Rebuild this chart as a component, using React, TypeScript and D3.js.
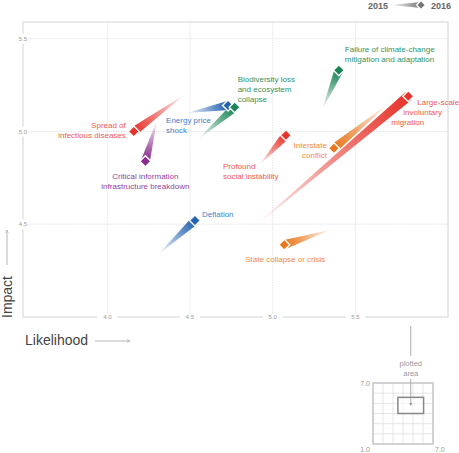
import React from "react";
import * as d3 from "d3";

// Risk data: 2015 -> 2016 movement on likelihood/impact
const risks = [
  "Spread of infectious diseases",
  "Critical information infrastructure breakdown",
  "Energy price shock",
  "Biodiversity loss and ecosystem collapse",
  "Failure of climate-change mitigation and adaptation",
  "Large-scale involuntary migration",
  "Interstate conflict",
  "Profound social instability",
  "Deflation",
  "State collapse or crisis",
];
const riskGroup = [
  "societal",
  "technological",
  "economic",
  "environmental",
  "environmental",
  "societal",
  "geopolitical",
  "societal",
  "economic",
  "geopolitical",
];
const likelihood2015 = [4.47, 4.3, 4.48, 4.55, 5.3, 4.88, 5.7, 4.92, 4.31, 5.35];
const impact2015 = [5.2, 5.06, 5.1, 4.96, 5.12, 4.48, 5.15, 4.82, 4.34, 4.47];
const likelihood2016 = [4.16, 4.23, 4.73, 4.77, 5.4, 5.82, 5.37, 5.08, 4.53, 5.07];
const impact2016 = [5.0, 4.84, 5.14, 5.13, 5.33, 5.19, 4.91, 4.98, 4.52, 4.39];
const labelLines = [
  ["Spread of", "infectious diseases"],
  ["Critical information", "infrastructure breakdown"],
  ["Energy price", "shock"],
  ["Biodiversity loss", "and ecosystem", "collapse"],
  ["Failure of climate-change", "mitigation and adaptation"],
  ["Large-scale", "involuntary", "migration"],
  ["Interstate", "conflict"],
  ["Profound", "social instability"],
  ["Deflation"],
  ["State collapse or crisis"],
];

const groups = ["societal", "technological", "economic", "environmental", "geopolitical"];
const markColors = ["#e5332a", "#8a2c8c", "#2563b0", "#1b8655", "#e8771e"];
const textColors = ["#ee5a50", "#94449a", "#3f80cc", "#2f9464", "#f08c45"];

const xTicks = [4.0, 4.5, 5.0, 5.5];
const yTicks = [4.5, 5.0, 5.5];
const insetTicks = [1, 2, 3, 4, 5, 6, 7];

// label placement relative to the 2016 diamond (px)
const labelLayout = [
  { dx: [-8], dy: -6, anchor: "end" },
  { dx: [0], dy: 15, anchor: "middle" },
  { dx: [-62], dy: 15, anchor: "start" },
  { dx: [3], dy: -28, anchor: "start" },
  { dx: [6], dy: -21, anchor: "start" },
  { dx: [9, -5, -17], dy: 6, anchor: "start" },
  { dx: [-7], dy: -3, anchor: "end" },
  { dx: [-63], dy: 31, anchor: "start" },
  { dx: [7], dy: -7, anchor: "start" },
  { dx: [-39], dy: 14, anchor: "start" },
];

const W = 459;
const H = 453;
const font = "'Liberation Sans', Arial, Helvetica, sans-serif";

const wedgePath = (tx, ty, hx, hy, w) => {
  const len = Math.hypot(hx - tx, hy - ty) || 1;
  const nx = -(hy - ty) / len;
  const ny = (hx - tx) / len;
  const p = d3.path();
  p.moveTo(tx, ty);
  p.lineTo(hx + (nx * w) / 2, hy + (ny * w) / 2);
  p.lineTo(hx - (nx * w) / 2, hy - (ny * w) / 2);
  p.closePath();
  return p.toString();
};

const diamond = (x, y, r) =>
  `M${x},${y - r}L${x + r},${y}L${x},${y + r}L${x - r},${y}Z`;

export default function App() {
  const x = d3.scaleLinear().domain([3.49, 6.06]).range([23, 448]);
  const y = d3.scaleLinear().domain([4.0, 5.59]).range([317, 22]);
  const color = d3.scaleOrdinal<string, string>().domain(groups).range(markColors);
  const tcolor = d3.scaleOrdinal<string, string>().domain(groups).range(textColors);
  const fmt = d3.format(".1f");

  // inset: full 1-7 scale with plotted window
  const ix = d3.scaleLinear().domain([1, 7]).range([373, 433]);
  const iy = d3.scaleLinear().domain([1, 7]).range([444, 383]);
  const [dx0, dx1] = x.domain();
  const [dy0, dy1] = y.domain();
  const cx = (ix(dx0) + ix(dx1)) / 2;
  const cy = (iy(dy0) + iy(dy1)) / 2;

  const [x0, x1] = x.range();
  const [y0, y1] = y.range();

  return (
    <svg
      width={W}
      height={H}
      style={{ position: "absolute", left: 0, top: 0, background: "#fff" }}
      fontFamily={font}
    >
      <defs>
        {risks.map((r, i) => (
          <linearGradient
            key={r}
            id={`g${i}`}
            gradientUnits="userSpaceOnUse"
            x1={x(likelihood2015[i])}
            y1={y(impact2015[i])}
            x2={x(likelihood2016[i])}
            y2={y(impact2016[i])}
          >
            <stop offset="0" stopColor={color(riskGroup[i])} stopOpacity={0.02} />
            <stop offset="0.7" stopColor={color(riskGroup[i])} stopOpacity={0.75} />
            <stop offset="1" stopColor={color(riskGroup[i])} stopOpacity={1} />
          </linearGradient>
        ))}
        <linearGradient id="legendGrad" x1="0" x2="1" y1="0" y2="0">
          <stop offset="0" stopColor="#777" stopOpacity={0.05} />
          <stop offset="1" stopColor="#777" stopOpacity={1} />
        </linearGradient>
        <marker id="arr" viewBox="0 0 6 6" refX="5" refY="3" markerWidth="5" markerHeight="5" orient="auto">
          <path d="M0,0.5L5,3L0,5.5" fill="none" stroke="#999" strokeWidth={0.8} />
        </marker>
        <marker id="arr2" viewBox="0 0 6 6" refX="5" refY="3" markerWidth="4" markerHeight="4" orient="auto">
          <path d="M0,0L6,3L0,6Z" fill="#999" />
        </marker>
      </defs>

      {/* grid */}
      {xTicks.map((t) => (
        <line key={`gx${t}`} x1={x(t)} x2={x(t)} y1={y1} y2={y0} stroke="#ddd" strokeWidth={0.8} strokeDasharray="1.5,1" />
      ))}
      {yTicks.map((t) => (
        <line key={`gy${t}`} x1={x0} x2={x1} y1={y(t)} y2={y(t)} stroke="#ddd" strokeWidth={0.8} strokeDasharray="1.5,1" />
      ))}
      <rect x={x0} y={y1} width={x1 - x0} height={y0 - y1} fill="none" stroke="#e2e2e2" strokeWidth={1.5} />

      {/* tick labels */}
      {xTicks.map((t) => (
        <g key={`tx${t}`}>
          <rect x={x(t) - 10} y={y0 - 3} width={20} height={6} fill="#fff" />
          <text x={x(t)} y={y0 + 2.2} fontSize={6} fill="#999" textAnchor="middle">
            {fmt(t)}
          </text>
        </g>
      ))}
      {yTicks.map((t) => (
        <g key={`ty${t}`}>
          <rect x={x0 - 5} y={y(t) - 5} width={10} height={10} fill="#fff" />
          <text x={x0} y={y(t) + 2.2} fontSize={6} fill="#999" textAnchor="middle">
            {fmt(t)}
          </text>
        </g>
      ))}

      {/* wedges */}
      {risks.map((r, i) => (
        <path
          key={`w${r}`}
          d={wedgePath(
            x(likelihood2015[i]),
            y(impact2015[i]),
            x(likelihood2016[i]),
            y(impact2016[i]),
            i === 5 ? 10 : 9
          )}
          fill={`url(#g${i})`}
        />
      ))}
      {/* diamonds */}
      {risks.map((r, i) => (
        <path
          key={`d${r}`}
          d={diamond(x(likelihood2016[i]), y(impact2016[i]), 5.5)}
          fill={color(riskGroup[i])}
          stroke="#fff"
          strokeWidth={1.4}
        />
      ))}

      {/* labels */}
      {risks.map((r, i) => {
        const L = labelLayout[i];
        const hx = x(likelihood2016[i]);
        const hy = y(impact2016[i]);
        return (
          <text key={`l${r}`} fontSize={8} fill={tcolor(riskGroup[i])} textAnchor={L.anchor}>
            {labelLines[i].map((s, k) => (
              <tspan key={k} x={hx + (L.dx[k] ?? L.dx[0])} y={hy + L.dy + k * 10 + 3}>
                {s}
              </tspan>
            ))}
          </text>
        );
      })}

      {/* axis titles */}
      <text x={25} y={345} fontSize={14} fill="#444">
        Likelihood
      </text>
      <line x1={95} x2={130} y1={341} y2={341} stroke="#999" strokeWidth={0.7} markerEnd="url(#arr)" />
      <text transform="translate(12,318) rotate(-90)" fontSize={14} fill="#444">
        Impact
      </text>
      <line x1={7} x2={7} y1={265} y2={230} stroke="#999" strokeWidth={0.7} markerEnd="url(#arr)" />

      {/* legend */}
      <text x={368} y={8.5} fontSize={9} fill="#666" fontWeight="bold">
        2015
      </text>
      <path d={wedgePath(391, 5, 421, 5, 6)} fill="url(#legendGrad)" />
      <path d={diamond(421, 5, 4.5)} fill="#777" stroke="#fff" strokeWidth={1.2} />
      <text x={431} y={8.5} fontSize={9} fill="#666" fontWeight="bold">
        2016
      </text>

      {/* inset */}
      {insetTicks.map((t) => (
        <g key={`it${t}`}>
          <line x1={ix(t)} x2={ix(t)} y1={iy(7)} y2={iy(1)} stroke="#e0e0e0" strokeWidth={0.8} />
          <line x1={ix(1)} x2={ix(7)} y1={iy(t)} y2={iy(t)} stroke="#e0e0e0" strokeWidth={0.8} />
        </g>
      ))}
      <rect x={ix(1)} y={iy(7)} width={ix(7) - ix(1)} height={iy(1) - iy(7)} fill="none" stroke="#c8c8c8" strokeWidth={1.5} />
      <rect
        x={ix(dx0)}
        y={iy(dy1)}
        width={ix(dx1) - ix(dx0)}
        height={iy(dy0) - iy(dy1)}
        fill="#fff"
        fillOpacity={0.6}
        stroke="#888"
        strokeWidth={1.5}
      />
      <line x1={cx} x2={cx} y1={326} y2={356} stroke="#999" strokeWidth={0.8} />
      <line x1={cx} x2={cx} y1={379} y2={cy} stroke="#999" strokeWidth={0.8} markerEnd="url(#arr2)" />
      <text x={cx} y={366} fontSize={7.5} fill="#999" textAnchor="middle">
        plotted
      </text>
      <text x={cx} y={375.5} fontSize={7.5} fill="#999" textAnchor="middle">
        area
      </text>
      <text x={ix(1) - 3} y={iy(7) + 2.5} fontSize={7} fill="#999" textAnchor="end">
        {fmt(7)}
      </text>
      <text x={ix(1) - 3} y={452} fontSize={7} fill="#999" textAnchor="end">
        {fmt(1)}
      </text>
      <text x={ix(7) + 2} y={452} fontSize={7} fill="#999" textAnchor="start">
        {fmt(7)}
      </text>
    </svg>
  );
}
